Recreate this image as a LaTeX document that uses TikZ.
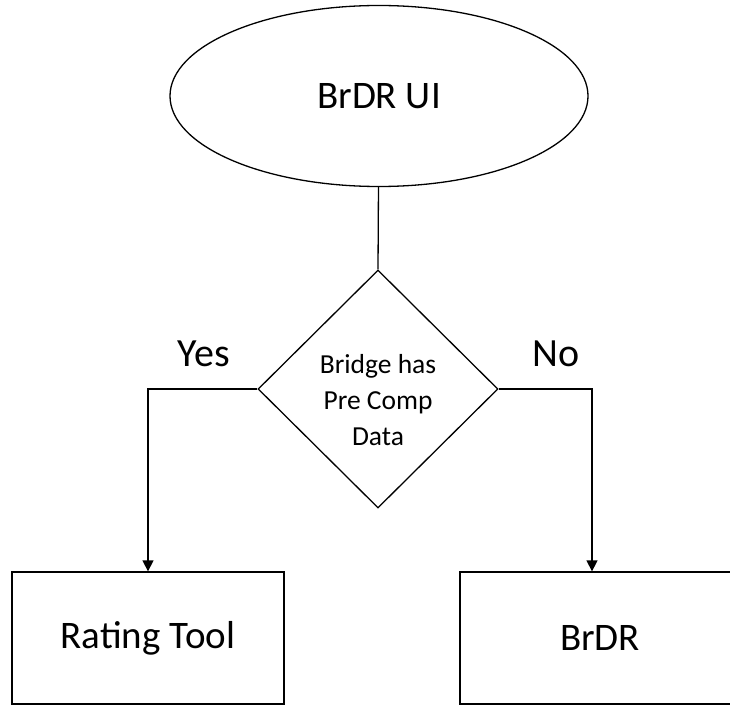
\documentclass[tikz,border=0pt]{standalone}
\usepackage{fontspec}
\setmainfont{Carlito}
\usetikzlibrary{shapes.geometric,arrows.meta}

\begin{document}
\begin{tikzpicture}[x=1pt,y=-1pt,line width=1.3pt,
    startnode/.style={draw,ellipse,minimum width=418pt,minimum height=181pt,inner sep=0pt,font=\fontsize{39}{46}\selectfont},
    decision/.style={draw,diamond,minimum width=240pt,minimum height=238pt,inner sep=0pt,font=\fontsize{27.5}{36}\selectfont},
    toolbox/.style={draw,rectangle,minimum width=280pt,minimum height=132pt,inner sep=0pt,font=\fontsize{39}{46}\selectfont},
    label/.style={font=\fontsize{40}{46}\selectfont},
    arrow/.style={-{Triangle[width=11pt,length=11pt]}}]
\useasboundingbox (0,0) rectangle (730,706);
\node[startnode] (ui) at (379,96) {BrDR UI};
\node[decision] (dia) at (378,389) {\raisebox{-20pt}[0pt][0pt]{\begin{tabular}{@{}c@{}}Bridge has\\Pre Comp\\Data\end{tabular}}};
\node[toolbox,minimum width=272pt] (rate) at (148,638) {Rating Tool};
\node[toolbox] (brdr) at (600,638) {BrDR};
\draw (ui) -- (dia.north);
\draw[arrow] (dia.west) -| (rate.north);
\draw[arrow] (dia.east) -| ([xshift=-8pt]brdr.north);
\node[label] (yes) at (204,354) {Yes};
\node[label] (no) at (556,354) {No};
\end{tikzpicture}
\end{document}
